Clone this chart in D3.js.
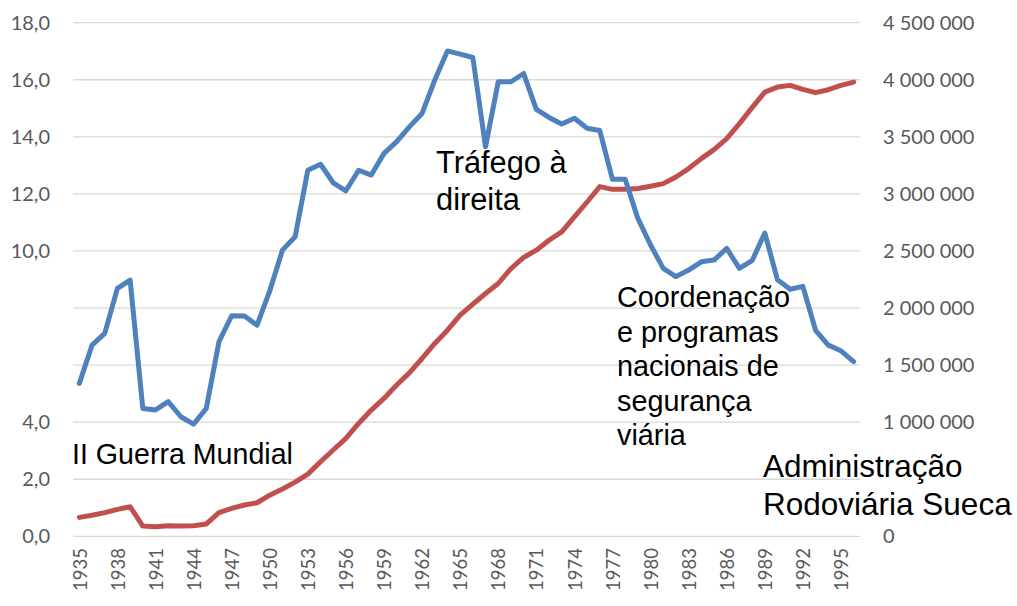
<!DOCTYPE html>
<html>
<head>
<meta charset="utf-8">
<script src="https://cdn.jsdelivr.net/npm/d3@7"></script>
<style>
    html, body { margin: 0; padding: 0; background: #ffffff; }
    #container { width: 1017px; height: 606px; }
</style>
</head>
<body>
<div id="container"></div>
<script>
// data
const years = d3.range(1935, 1997);
const deathRate = [
    5.36, 6.70, 7.11, 8.69, 8.98, 4.48, 4.43, 4.72, 4.19, 3.93,
    4.48, 6.82, 7.73, 7.72, 7.40, 8.60, 10.03, 10.50, 12.83, 13.04,
    12.39, 12.11, 12.83, 12.66, 13.42, 13.83, 14.35, 14.82, 15.99, 17.01,
    16.90, 16.78, 13.65, 15.93, 15.93, 16.22, 14.96, 14.68, 14.45, 14.65,
    14.30, 14.22, 12.51, 12.51, 11.14, 10.21, 9.39, 9.10, 9.33, 9.62,
    9.68, 10.09, 9.39, 9.66, 10.63, 8.99, 8.66, 8.76, 7.22, 6.70,
    6.50, 6.12
];
const vehicles = [
    166000, 184000, 207000, 236000, 259000, 90000, 84000, 93000, 90000, 93000,
    108000, 207000, 245000, 274000, 294000, 360000, 415000, 475000, 545000, 653000,
    756000, 858000, 989000, 1106000, 1208000, 1325000, 1432000, 1558000, 1690000, 1806000,
    1937000, 2034000, 2127000, 2215000, 2346000, 2443000, 2507000, 2594000, 2667000, 2798000,
    2929000, 3064000, 3040000, 3040000, 3047000, 3067000, 3090000, 3148000, 3222000, 3309000,
    3388000, 3484000, 3616000, 3756000, 3892000, 3936000, 3951000, 3916000, 3887000, 3913000,
    3951000, 3980000
];
const leftTicks = [0, 2, 4, 10, 12, 14, 16, 18];
const gridTicks = d3.range(0, 19, 2);
const rightTicks = [0, 1000000, 1500000, 2000000, 2500000, 3000000, 3500000, 4000000, 4500000];
const yearTicks = d3.range(1935, 1996, 3);
const notes = [
    { lines: ['II Guerra Mundial'], x: 72, y: 464, size: 28.6 },
    { lines: ['Tráfego à', 'direita'], x: 436, y: 173, size: 30.8 },
    { lines: ['Coordenação', 'e programas', 'nacionais de', 'segurança', 'viária'], x: 617, y: 307, size: 28.8 },
    { lines: ['Administração', 'Rodoviária Sueca'], x: 763, y: 477, size: 31.5 }
];

const width = 1017;
const height = 606;

const svg = d3.select('#container')
    .append('svg')
    .attr('width', width)
    .attr('height', height);

const locale = d3.formatLocale({ decimal: ',', thousands: ' ', grouping: [3], currency: ['', ''] });
const fmtLeft = locale.format('.1f');
const fmtRight = locale.format(',d');

const x = d3.scalePoint()
    .domain(years)
    .range([73, 860])
    .padding(0.5);
const yLeft = d3.scaleLinear()
    .domain([0, 18])
    .range([536.3, 22.7]);
const yRight = d3.scaleLinear()
    .domain([0, 4500000])
    .range([536.3, 22.7]);

// gridlines
svg.append('g')
    .selectAll('line')
    .data(gridTicks)
    .join('line')
    .attr('x1', 73)
    .attr('x2', 860)
    .attr('y1', d => yLeft(d))
    .attr('y2', d => yLeft(d))
    .attr('stroke', '#d9d9d9')
    .attr('stroke-width', 1.3);

// left axis
const leftAxis = svg.append('g')
    .attr('transform', 'translate(50,0)')
    .call(d3.axisLeft(yLeft).tickValues(leftTicks).tickFormat(fmtLeft).tickSize(0).tickPadding(0));
// right axis
const rightAxis = svg.append('g')
    .attr('transform', 'translate(883,0)')
    .call(d3.axisRight(yRight).tickValues(rightTicks).tickFormat(fmtRight).tickSize(0).tickPadding(0));
// bottom axis
const bottomAxis = svg.append('g')
    .attr('transform', 'translate(0,548)')
    .call(d3.axisBottom(x).tickValues(yearTicks).tickSize(0).tickPadding(0));
bottomAxis.selectAll('text')
    .attr('transform', 'rotate(-90)')
    .attr('x', 0)
    .attr('y', 0)
    .attr('dy', '0.36em')
    .style('text-anchor', 'end');

[leftAxis, rightAxis, bottomAxis].forEach(axis => {
    axis.select('.domain').remove();
    axis.selectAll('text')
        .style('font-family', 'Lato, sans-serif')
        .style('fill', '#595959');
});
leftAxis.selectAll('text').style('font-size', '20px');
rightAxis.selectAll('text').style('font-size', '20px');
bottomAxis.selectAll('text').style('font-size', '18.5px');

// lines
const lineRate = d3.line()
    .x((d, i) => x(years[i]))
    .y(d => yLeft(d));
const lineVehicles = d3.line()
    .x((d, i) => x(years[i]))
    .y(d => yRight(d));

svg.append('path')
    .datum(vehicles)
    .attr('d', lineVehicles)
    .attr('fill', 'none')
    .attr('stroke', '#c0504d')
    .attr('stroke-width', 5)
    .attr('stroke-linejoin', 'round')
    .attr('stroke-linecap', 'round');
svg.append('path')
    .datum(deathRate)
    .attr('d', lineRate)
    .attr('fill', 'none')
    .attr('stroke', '#4f81bd')
    .attr('stroke-width', 5)
    .attr('stroke-linejoin', 'round')
    .attr('stroke-linecap', 'round');

// annotations
notes.forEach(note => {
    const t = svg.append('text')
        .attr('x', note.x)
        .attr('y', note.y)
        .style('font-family', '\'Liberation Sans\', Arial, sans-serif')
        .style('font-size', note.size + 'px')
        .style('fill', '#000000');
    note.lines.forEach((line, i) => {
        t.append('tspan')
            .attr('x', note.x)
            .attr('dy', i === 0 ? 0 : note.size * 1.2)
            .text(line);
    });
});
</script>
</body>
</html>
